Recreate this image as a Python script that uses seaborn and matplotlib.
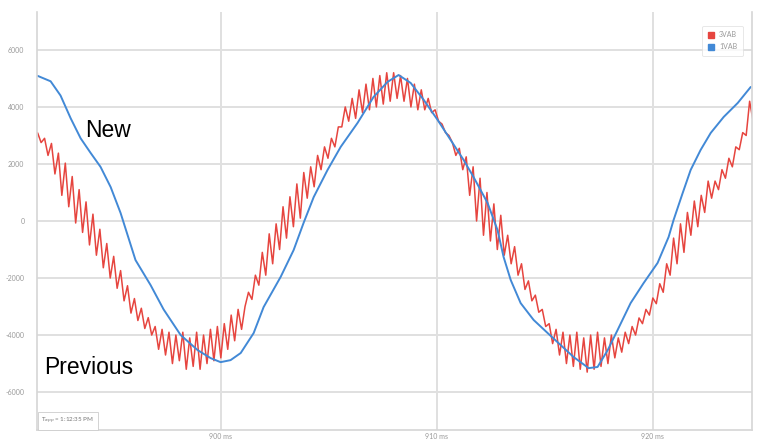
import numpy as np
import pandas as pd
import seaborn as sns
import matplotlib.pyplot as plt
from matplotlib.patches import Patch

# New waveform (smooth) - time in ms, value
new_t = [891.53, 892.13, 892.59, 893.06, 893.52, 893.98, 894.44, 894.91, 895.37, 896.06,
         896.76, 897.36, 898.15, 898.94, 899.54, 900.00, 900.46, 900.93, 901.53, 901.99,
         902.78, 903.38, 903.84, 904.31, 904.95, 905.56, 906.34, 907.08, 907.73, 908.24,
         908.80, 909.40, 910.05, 910.65, 911.25, 911.71, 912.36, 912.82, 913.10, 913.43,
         913.89, 914.49, 915.14, 915.74, 916.34, 917.04, 917.45, 917.92, 918.38, 918.98,
         919.58, 920.23, 920.74, 920.97, 921.39, 921.76, 922.22, 922.69, 923.29, 923.94,
         924.54]
new_v = [5090, 4900, 4400, 3600, 2900, 2390, 1900, 1190, 280, -1370,
         -2250, -3100, -4000, -4530, -4810, -4950, -4880, -4630, -3930, -3020,
         -1960, -1020, -70, 840, 1790, 2600, 3440, 4350, 4880, 5120,
         4840, 4250, 3540, 2840, 2140, 1540, 630, -320, -1260, -2070,
         -2880, -3470, -3930, -4350, -4770, -5160, -5120, -4530, -3820, -2880,
         -2180, -1470, -560, 35, 980, 1790, 2490, 3090, 3650, 4140,
         4700]

# Previous waveform (noisy), sampled every 0.16 ms from 891.53 ms
prev_t0 = 891.53
prev_dt = 0.16
prev_v = [3090, 2750, 2900, 2300, 2720, 1650, 2380, 900, 2030, 500,
          1560, -70, 1100, -400, 670, -840, 240, -1200, -290, -1640,
          -790, -2000, -1240, -2360, -1740, -2800, -2270, -3230, -2720, -3490,
          -3060, -3770, -3390, -4000, -3700, -4500, -3800, -4700, -3900, -5000,
          -4000, -4900, -3900, -5200, -4100, -5100, -3900, -5200, -4000, -5000,
          -3800, -4900, -3700, -4800, -3600, -4500, -3300, -4200, -3100, -3800,
          -3000, -2500, -2750, -1900, -2250, -1100, -1900, -450, -1500, -100,
          -1000, 500, -600, 850, -200, 1300, 100, 1700, 800, 1900,
          1200, 2300, 1800, 2600, 2200, 2900, 2600, 3300, 3300, 4000,
          3500, 4300, 3600, 4600, 3800, 4800, 3900, 5000, 4000, 5100,
          4100, 5200, 4200, 5200, 4300, 5100, 4200, 5000, 4000, 4800,
          3900, 4600, 3900, 4300, 3800, 3900, 3500, 3400, 3100, 3000,
          2750, 2300, 2550, 1800, 2250, 900, 1900, 0, 1500, -500,
          1000, -700, 600, -1000, 200, -1200, -500, -1500, -900, -1900,
          -1500, -2400, -2100, -2800, -2600, -3200, -3100, -3700, -3600, -4300,
          -3800, -4700, -3900, -5000, -4000, -5100, -3900, -5200, -4100, -5300,
          -4000, -5200, -3900, -5100, -4100, -5000, -4000, -4800, -4100, -4600,
          -3900, -4300, -3700, -4000, -3400, -3600, -3100, -3300, -2700, -2900,
          -2200, -2500, -1500, -1900, -600, -1500, -100, -1100, 300, -500,
          700, -200, 900, 300, 1400, 800, 1400, 1100, 1800, 1500,
          2200, 1900, 2600, 2500, 3100, 3000, 4200, 3500]

y_ticks = [-6000, -4000, -2000, 0, 2000, 4000, 6000]
x_ticks = [900, 910, 920]
x_tick_labels = ['900 ms', '910 ms', '920 ms']
legend_labels = ['3VAB', '1VAB']

RED = '#e6453f'
BLUE = '#4289d6'

prev_t = prev_t0 + prev_dt * np.arange(len(prev_v))
df_prev = pd.DataFrame({'t': prev_t, 'v': prev_v})
df_new = pd.DataFrame({'t': new_t, 'v': new_v})

sns.set_theme(style='whitegrid')
plt.rcParams['font.family'] = ['Lato', 'DejaVu Sans']

fig = plt.figure(figsize=(7.58, 4.42), dpi=100)
ax = fig.add_axes([37 / 758, 12 / 442, 715 / 758, 418 / 442])

sns.lineplot(data=df_prev, x='t', y='v', color=RED, lw=1.1, ax=ax,
             estimator=None, sort=False)
sns.lineplot(data=df_new, x='t', y='v', color=BLUE, lw=1.4, ax=ax,
             estimator=None, sort=False)

ax.set_xlim(891.5, 924.6)
ax.set_ylim(-7330, 7330)
ax.set_xticks(x_ticks)
ax.set_xticklabels(x_tick_labels)
ax.set_yticks(y_ticks)
ax.set_yticklabels([str(v) for v in y_ticks])
ax.tick_params(length=0, labelsize=5, colors='#999999')
ax.tick_params(axis='y', pad=9)
ax.tick_params(axis='x', pad=2)
ax.set_xlabel('')
ax.set_ylabel('')
ax.grid(color='#e0e0e0', lw=1.4)

for side in ['left', 'bottom', 'right']:
    ax.spines[side].set_visible(True)
    ax.spines[side].set_color('#d6d6d6')
    ax.spines[side].set_linewidth(1.2)
ax.spines['top'].set_visible(False)

# annotations
ax.text(0.067, 0.70, 'New', transform=ax.transAxes, fontsize=16.5,
        family=['Liberation Sans', 'DejaVu Sans'], color='black')
ax.text(0.010, 0.133, 'Previous', transform=ax.transAxes, fontsize=16.5,
        family=['Liberation Sans', 'DejaVu Sans'], color='black')

ax.text(0.006, 0.018, 'T$_{app}$ = 1:12:35 PM', transform=ax.transAxes,
        fontsize=4.5, color='#777777',
        bbox=dict(boxstyle='square,pad=0.6', fc='white', ec='#cccccc', lw=0.6))

handles = [Patch(facecolor=RED, edgecolor=RED), Patch(facecolor=BLUE, edgecolor=BLUE)]
leg = ax.legend(handles, legend_labels, loc='upper right', bbox_to_anchor=(0.992, 0.975),
                fontsize=5, handlelength=0.9, handleheight=0.9, handletextpad=0.7,
                frameon=True, borderpad=0.8, labelspacing=0.7)
leg.get_frame().set_edgecolor('#dddddd')
leg.get_frame().set_linewidth(0.6)
for t in leg.get_texts():
    t.set_color('#999999')

fig.savefig('out.png', dpi=100, facecolor='white')
